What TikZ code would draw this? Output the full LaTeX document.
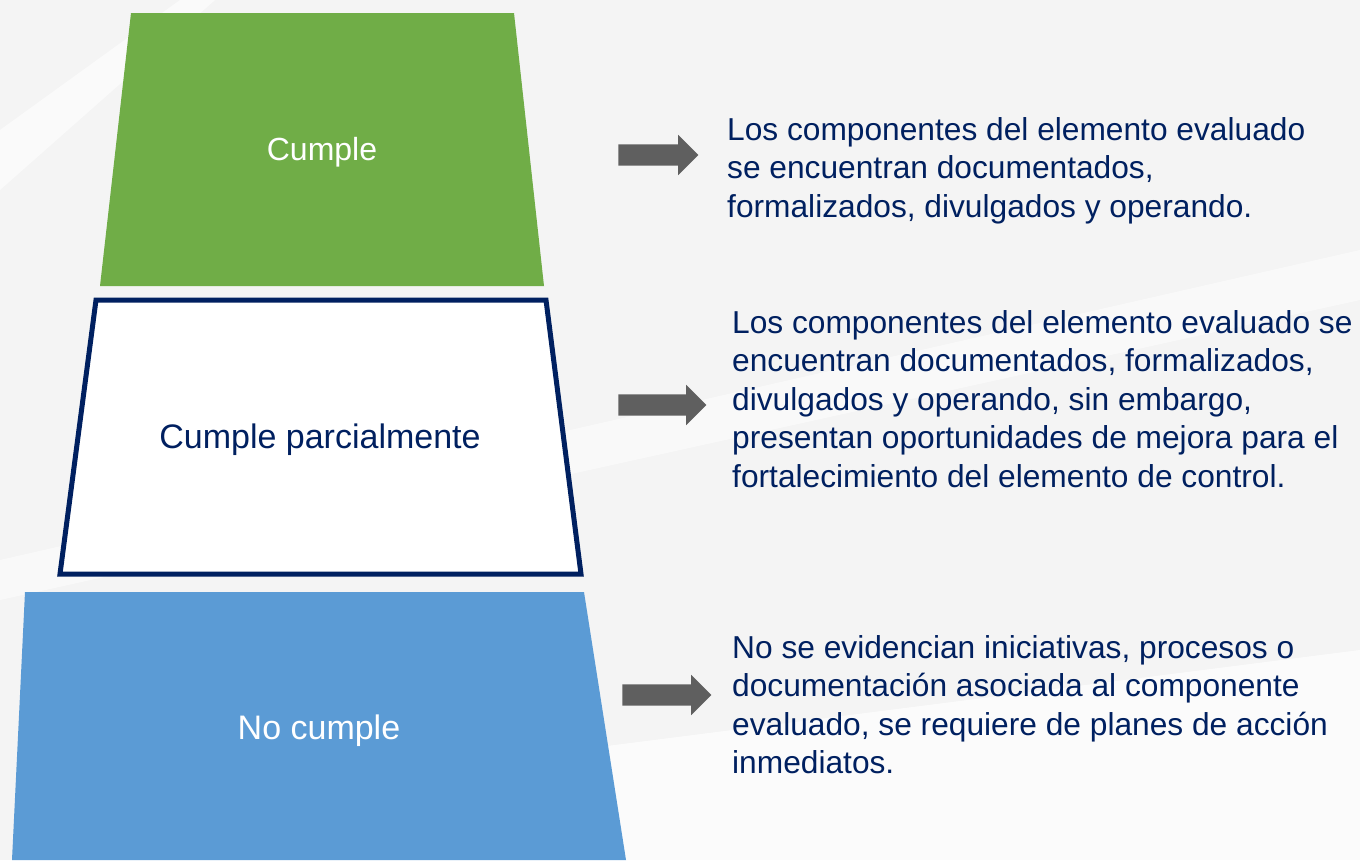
\documentclass[tikz,border=0pt]{standalone}
\usepackage{fontspec}
\setmainfont{Liberation Sans}
\usepackage{xcolor}
\usetikzlibrary{shapes.arrows, positioning}

\definecolor{bgray}{HTML}{F4F4F4}
\definecolor{okgreen}{HTML}{70AD47}
\definecolor{navy}{HTML}{002060}
\definecolor{nogblue}{HTML}{5B9BD5}
\definecolor{arrgray}{HTML}{5F5F5F}

\begin{document}
\begin{tikzpicture}[
  x=1pt, y=-1pt,
  level/.style={font=\fontsize{34}{40}\selectfont, align=center},
  desc/.style={anchor=north west, inner sep=0pt, align=left, text=navy,
              font=\fontsize{31.7}{38.5}\selectfont},
  blockarrow/.style={single arrow, draw=none, fill=arrgray, inner xsep=0pt,
              inner ysep=10.5pt, single arrow head extend=9.5pt,
              single arrow head indent=0pt, minimum height=90pt}
]

% Background
\useasboundingbox (0,0) rectangle (1360,860);
\fill[bgray] (0,0) rectangle (1360,860);
\fill[white, opacity=0.6] (0,130) -- (180,0) -- (215,0) -- (0,190) -- cycle;
\fill[white, opacity=0.5] (0,560) -- (1360,250) -- (1360,300) -- (0,600) -- cycle;
\fill[white, opacity=0.7] (560,752) -- (1360,650) -- (1360,860) -- (560,860) -- cycle;

% Levels
\fill[okgreen] (131,13) -- (514,13) -- (544,286) -- (100,286) -- cycle;
\fill[white] (96,300) -- (546,300) -- (581,574) -- (60,574) -- cycle;
\draw[navy, line width=5pt] (96,300) -- (546,300) -- (581,574) -- (60,574) -- cycle;
\fill[nogblue] (25,592) -- (584,592) -- (626,860) -- (12,860) -- cycle;

\node[level, text=white, font=\fontsize{32}{38}\selectfont] (cumple) at (322,152) {Cumple};
\node[level, text=navy] (parcial) at (320,440) {Cumple parcialmente};
\node[level, text=white] (nocumple) at (319,731) {No cumple};

% Arrows
\node[blockarrow, minimum height=80pt] (arr1) at (653,155) {};
\node[blockarrow, minimum height=88pt] (arr2) at (657,405) {};
\node[blockarrow, minimum height=89pt] (arr3) at (661.5,695) {};

% Descriptions
\node[desc] (txt1) at (727,117) {Los componentes del elemento evaluado\\
  se encuentran documentados,\\ formalizados, divulgados y operando.};
\node[desc] (txt2) at (732,310) {Los componentes del elemento evaluado se\\
  encuentran documentados, formalizados,\\ divulgados y operando, sin embargo,\\
  presentan oportunidades de mejora para el\\ fortalecimiento del elemento de control.};
\node[desc] (txt3) at (732,635) {No se evidencian iniciativas, procesos o\\
  documentación asociada al componente\\ evaluado, se requiere de planes de acción\\
  inmediatos.};
\end{tikzpicture}
\end{document}
